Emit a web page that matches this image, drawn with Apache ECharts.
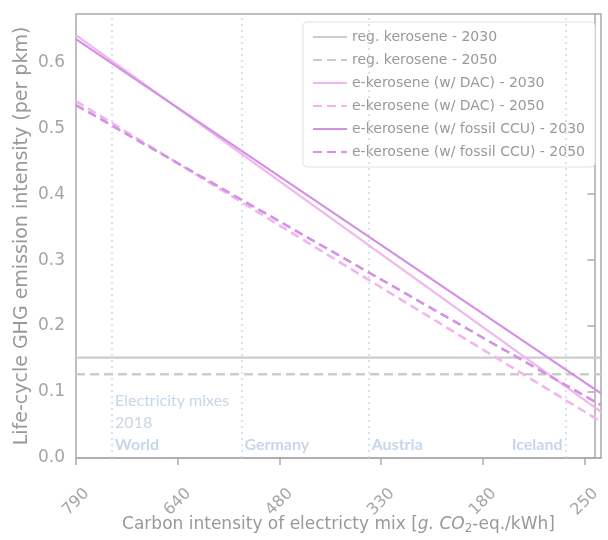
<!DOCTYPE html>
<html>
<head>
<meta charset="utf-8">
<script src="https://cdn.jsdelivr.net/npm/echarts@6/dist/echarts.min.js"></script>
<style>html,body{margin:0;padding:0;background:#fff;}#c{width:608px;height:540px;}</style>
</head>
<body>
<div id="c"></div>
<script>
// x positions (carbon intensity axis units) of the line end points
var xEnds = [790, -10];
// y values at those end points
var regKerosene2030 = [0.152, 0.152];
var regKerosene2050 = [0.127, 0.127];
var dac2030 = [0.641, 0.070];
var dac2050 = [0.541, 0.055];
var ccu2030 = [0.635, 0.098];
var ccu2050 = [0.535, 0.080];
// x tick values and their labels
var xTickValues = [790, 635, 480, 325, 170, 15];
var xTickLabels = ['790', '640', '480', '330', '180', '250'];
var yTickValues = [0, 0.1, 0.2, 0.3, 0.4, 0.5, 0.6];
// electricity mixes 2018
var mixNames = ['World', 'Germany', 'Austria', 'Iceland'];
var mixX = [735, 538, 344, 44];

var seriesNames = ['reg. kerosene - 2030', 'reg. kerosene - 2050', 'e-kerosene (w/ DAC) - 2030',
  'e-kerosene (w/ DAC) - 2050', 'e-kerosene (w/ fossil CCU) - 2030', 'e-kerosene (w/ fossil CCU) - 2050'];
var seriesVals = [regKerosene2030, regKerosene2050, dac2030, dac2050, ccu2030, ccu2050];
var colors = ['#cccccc', '#cccccc', '#f2b6ee', '#f2b6ee', '#d291e4', '#d291e4'];
var dashed = [false, true, false, true, false, true];

function pairs(vals) { return xEnds.map(function (x, i) { return [x, vals[i]]; }); }

var FONT = 'DejaVu Sans';
var series = seriesNames.map(function (n, i) {
  return {
    name: n, type: 'line', symbol: 'none', data: pairs(seriesVals[i]),
    lineStyle: { color: colors[i], width: dashed[i] ? 2.6 : 2.2, type: dashed[i] ? [9, 5] : 'solid' },
    itemStyle: { color: colors[i] }, z: 3 + i
  };
});
var mixColor = '#b7cde5';
series.push({
  type: 'scatter', symbolSize: 0, silent: true, z: 2,
  data: mixNames.map(function (n, i) { return { name: n, value: [mixX[i], 0],
    label: { position: i === 3 ? [-3, -2] : [3, -2], align: i === 3 ? 'right' : 'left' } }; }),
  label: {
    show: true, verticalAlign: 'bottom', fontFamily: 'Lato', fontSize: 16, color: mixColor, lineHeight: 22,
    formatter: function (p) {
      return (p.dataIndex === 0 ? '{a|Electricity mixes}\n{a|2018}\n' : '') + '{b|' + p.name + '}';
    },
    rich: { a: { fontFamily: 'Lato', fontSize: 16, color: mixColor, lineHeight: 22 },
            b: { fontFamily: 'Lato', fontSize: 16, fontWeight: 'bold', color: mixColor, lineHeight: 22 } }
  },
  markLine: {
    silent: true, symbol: ['none', 'none'], label: { show: false },
    lineStyle: { color: '#c8dcf0', type: [2, 4], width: 1.6 },
    data: mixX.map(function (x) { return { xAxis: x }; })
  }
});

var chart = echarts.init(document.getElementById('c'));
chart.setOption({
  backgroundColor: '#fff',
  animation: false,
  grid: { left: 76, right: 7, top: 14, bottom: 82, show: true, borderColor: '#aaaaaa', borderWidth: 1.5,
          containLabel: false, outerBoundsMode: 'none' },
  legend: {
    orient: 'vertical', left: 303, top: 22, itemWidth: 34, itemHeight: 14, itemGap: 9,
    backgroundColor: '#fff', borderColor: '#e2e2e2', borderWidth: 1, borderRadius: 4, padding: [8, 10, 8, 9],
    itemStyle: { opacity: 0, borderWidth: 0 },
    textStyle: { fontFamily: FONT, fontSize: 14, color: '#999' },
    data: seriesNames
  },
  xAxis: {
    type: 'value', inverse: true, min: -10, max: 790,
    name: '{n|Carbon intensity of electricty mix [}{i|g. CO}{s|2}{n|-eq./kWh]}',
    nameLocation: 'middle', nameGap: 57, nameMoveOverlap: false,
    nameTextStyle: { rich: {
      n: { fontFamily: FONT, fontSize: 17, color: '#999' },
      i: { fontFamily: FONT, fontSize: 17, color: '#999', fontStyle: 'italic' },
      s: { fontFamily: FONT, fontSize: 12, color: '#999', verticalAlign: 'bottom', padding: [8, 0, 0, 0] } } },
    splitLine: { show: false },
    axisLine: { show: true, lineStyle: { color: '#aaaaaa', width: 1.5 } },
    axisTick: { show: true, length: 7, lineStyle: { color: '#aaaaaa', width: 1.5 }, customValues: xTickValues },
    axisLabel: {
      customValues: xTickValues, rotate: 45, align: 'center', verticalAlign: 'middle', margin: 44,
      fontFamily: FONT, fontSize: 16, color: '#a5a5a5',
      formatter: function (v) { var k = xTickValues.indexOf(v); return k >= 0 ? xTickLabels[k] : ''; }
    }
  },
  yAxis: {
    type: 'value', min: 0, max: 0.673,
    name: 'Life-cycle GHG emission intensity (per pkm)', nameLocation: 'middle', nameGap: 44, nameMoveOverlap: false,
    nameTextStyle: { fontFamily: FONT, fontSize: 19, color: '#999' },
    splitLine: { show: false },
    axisLine: { show: true, lineStyle: { color: '#aaaaaa', width: 1.5 } },
    axisTick: { show: true, length: 7, lineStyle: { color: '#aaaaaa', width: 1.5 }, customValues: yTickValues },
    axisLabel: { customValues: yTickValues, fontFamily: FONT, fontSize: 17, color: '#a5a5a5', margin: 11,
      formatter: function (v) { return v.toFixed(1); } }
  },
  series: series
});
</script>
</body>
</html>
